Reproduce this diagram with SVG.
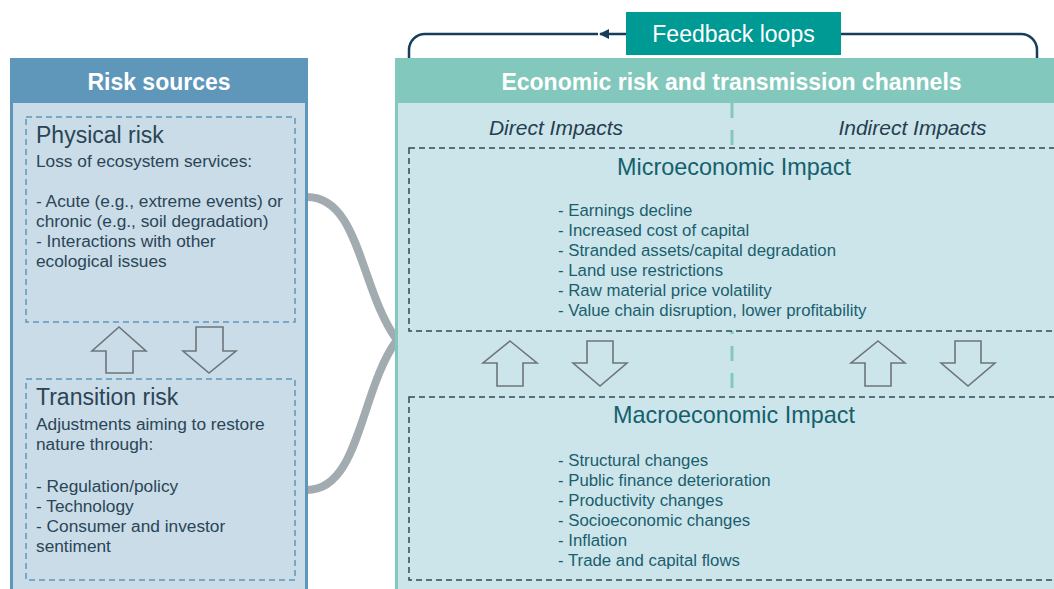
<svg xmlns="http://www.w3.org/2000/svg" width="1054" height="589" viewBox="0 0 1054 589">
<defs>
<style>
text{font-family:"Liberation Sans",Arial,sans-serif}
.hdr{fill:#fff;font-weight:bold;font-size:23px;text-anchor:middle}
.ltitle{fill:#2b4556;font-size:23px}
.ltxt{fill:#2b4556;font-size:17.3px}
.rtitle{fill:#15606d;font-size:23.4px;text-anchor:middle}
.rtxt{fill:#1a5e6e;font-size:16.8px}
.ital{fill:#253e50;font-size:21px;font-style:italic;text-anchor:middle}
.ldash{fill:none;stroke:#5f97bb;stroke-width:1.5;stroke-dasharray:6 4}
.rdash{fill:#cce5ea;stroke:#2f4858;stroke-width:1.5;stroke-dasharray:6 4}
.arr{fill:none;stroke:#6e7579;stroke-width:1.6;stroke-linejoin:miter}
.fb{fill:none;stroke:#163e5c;stroke-width:2.5}
</style>
<marker id="ah" viewBox="0 0 10 10" refX="9" refY="5" markerWidth="4" markerHeight="4" orient="auto" markerUnits="strokeWidth">
<path d="M0,0 L10,5 L0,10 z" fill="#163e5c"/>
</marker>
</defs>
<rect width="1054" height="589" fill="#ffffff"/>

<g id="connectors">
<path d="M307,197 C360,197 360,290 397,340 C360,390 360,490 307,490" fill="none" stroke="#a2abb0" stroke-width="8" stroke-linejoin="round"/>
<path class="fb" d="M409,58 V50 A16,16 0 0 1 425,34 H598"/>
<path class="fb" d="M626,34 H600" marker-end="url(#ah)"/>
<path class="fb" d="M841,34 H1021 A16,16 0 0 1 1037,50 V58"/>
</g>

<g id="risk-sources">
<rect x="10" y="58" width="298" height="545" fill="#5f97bb"/>
<rect x="13" y="103" width="292" height="500" fill="#c9dce8"/>
<text class="hdr" x="159" y="90">Risk sources</text>
</g>

<g id="physical-risk">
<rect class="ldash" x="26" y="117" width="269" height="205"/>
<text class="ltitle" x="36" y="143">Physical risk</text>
<text class="ltxt" x="36" y="167">Loss of ecosystem services:</text>
<text class="ltxt" x="36" y="207">- Acute (e.g., extreme events) or</text>
<text class="ltxt" x="36" y="227">chronic (e.g., soil degradation)</text>
<text class="ltxt" x="36" y="247">- Interactions with other</text>
<text class="ltxt" x="36" y="267">ecological issues</text>
</g>

<g id="left-arrows">
<path class="arr" d="M119,327 L146,351 L133,351 L133,373 L106,373 L106,351 L92,351 Z"/>
<path class="arr" d="M196,327 L223,327 L223,351 L236,351 L209,373 L183,351 L196,351 Z"/>
</g>

<g id="transition-risk">
<rect class="ldash" x="26" y="379" width="269" height="201"/>
<text class="ltitle" x="36" y="405">Transition risk</text>
<text class="ltxt" x="36" y="430">Adjustments aiming to restore</text>
<text class="ltxt" x="36" y="450">nature through:</text>
<text class="ltxt" x="36" y="492">- Regulation/policy</text>
<text class="ltxt" x="36" y="512">- Technology</text>
<text class="ltxt" x="36" y="532">- Consumer and investor</text>
<text class="ltxt" x="36" y="552">sentiment</text>
</g>

<g id="economic-risk">
<rect x="395" y="58" width="670" height="545" fill="#82c8bc"/>
<rect x="398" y="103" width="660" height="500" fill="#cce5ea"/>
<text class="hdr" x="731.5" y="90">Economic risk and transmission channels</text>
<line x1="732" y1="103" x2="732" y2="397" stroke="#82c8bc" stroke-width="3" stroke-dasharray="15 12"/>
<text class="ital" x="556" y="135">Direct Impacts</text>
<text class="ital" x="912.5" y="135">Indirect Impacts</text>
</g>

<g id="feedback-loops">
<rect x="626" y="12" width="215" height="43" fill="#009a94"/>
<text x="733.5" y="42" fill="#ffffff" font-size="23" text-anchor="middle">Feedback loops</text>
</g>

<g id="microeconomic-impact">
<rect class="rdash" x="409" y="148" width="660" height="183"/>
<text class="rtitle" x="734" y="175">Microeconomic Impact</text>
<text class="rtxt" x="558" y="216">- Earnings decline</text>
<text class="rtxt" x="558" y="236">- Increased cost of capital</text>
<text class="rtxt" x="558" y="256">- Stranded assets/capital degradation</text>
<text class="rtxt" x="558" y="276">- Land use restrictions</text>
<text class="rtxt" x="558" y="296">- Raw material price volatility</text>
<text class="rtxt" x="558" y="316">- Value chain disruption, lower profitability</text>
</g>

<g id="right-arrows">
<path class="arr" d="M510,341 L537,363 L523,363 L523,386 L497,386 L497,363 L483,363 Z"/>
<path class="arr" d="M587,341 L613,341 L613,363 L627,363 L600,386 L573,363 L587,363 Z"/>
<path class="arr" d="M878,341 L905,363 L891,363 L891,386 L865,386 L865,363 L851,363 Z"/>
<path class="arr" d="M955,341 L981,341 L981,363 L995,363 L968,386 L941,363 L955,363 Z"/>
</g>

<g id="macroeconomic-impact">
<rect class="rdash" x="409" y="397" width="660" height="183"/>
<text class="rtitle" x="734" y="423">Macroeconomic Impact</text>
<text class="rtxt" x="558" y="466">- Structural changes</text>
<text class="rtxt" x="558" y="486">- Public finance deterioration</text>
<text class="rtxt" x="558" y="506">- Productivity changes</text>
<text class="rtxt" x="558" y="526">- Socioeconomic changes</text>
<text class="rtxt" x="558" y="546">- Inflation</text>
<text class="rtxt" x="558" y="566">- Trade and capital flows</text>
</g>
</svg>
